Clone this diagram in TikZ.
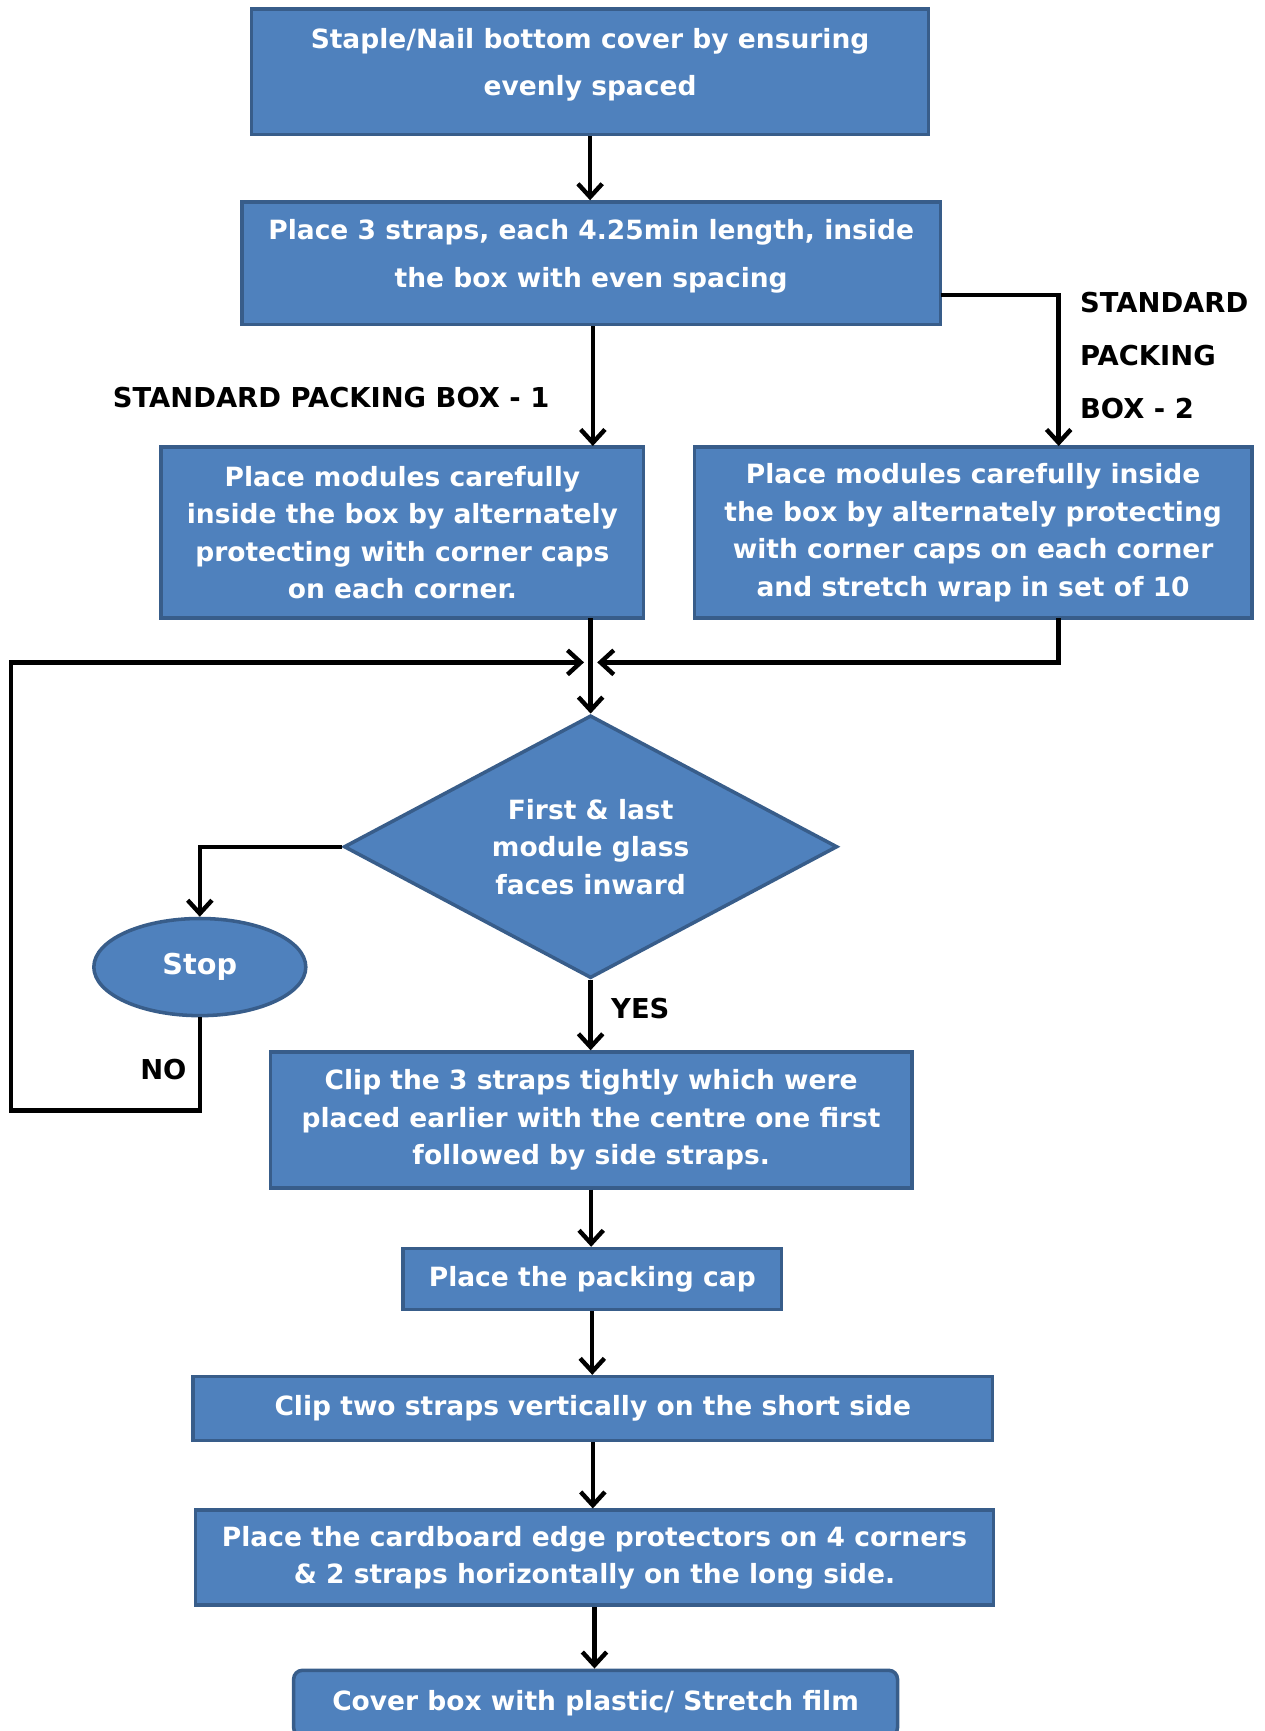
\documentclass[tikz,border=0pt]{standalone}
\usepackage{fontspec}
\setmainfont{DejaVu Sans}
\usepackage{tikz}
\usetikzlibrary{shapes.geometric,arrows.meta}

\definecolor{boxfill}{RGB}{79,129,189}
\definecolor{boxline}{RGB}{56,93,138}

\begin{document}
\begin{tikzpicture}[x=0.5pt,y=0.5pt,yscale=-1,
  blk/.style={draw=boxline,fill=boxfill,line width=1.6pt,text=white,align=center,inner sep=0pt,
    font=\bfseries\fontsize{12}{17}\selectfont},
  wideblk/.style={blk,text depth=9pt,font=\bfseries\fontsize{12}{21.5}\selectfont},
  lbl/.style={inner sep=0pt,font=\bfseries\fontsize{12.4}{24}\selectfont},
  arr/.style={line width=2pt,-{Straight Barb[length=6pt,width=11pt]}},
  ln/.style={line width=2pt}]
\useasboundingbox (0,0) rectangle (1145,1568);

%Shape: Rectangle
\node (staple) at (534.5,65) [wideblk,minimum width=306.5pt,minimum height=57pt]
  {Staple/Nail bottom cover by ensuring\\evenly spaced};
%Shape: Rectangle
\node (straps) at (535.5,238.5) [wideblk,minimum width=316.5pt,minimum height=55.5pt]
  {Place 3 straps, each 4.25min length, inside\\the box with even spacing};
%Shape: Rectangle
\node (boxone) at (364.5,482.5) [blk,minimum width=218.5pt,minimum height=77.5pt]
  {Place modules carefully\\inside the box by alternately\\protecting with corner caps\\on each corner.};
%Shape: Rectangle
\node (boxtwo) at (881.5,482.5) [blk,minimum width=252.5pt,minimum height=77.5pt]
  {Place modules carefully inside\\the box by alternately protecting\\with corner caps on each corner\\and stretch wrap in set of 10};
%Shape: Diamond
\node (check) at (535,767) [blk,diamond,aspect=1.88,minimum width=223.5pt,minimum height=119pt]
  {First \& last\\module glass\\faces inward};
%Shape: Ellipse
\node (stop) at (181,876) [blk,ellipse,minimum width=96pt,minimum height=44pt,font=\bfseries\fontsize{13}{16}\selectfont]
  {Stop};
%Shape: Rectangle
\node (clip) at (535.5,1014.5) [blk,minimum width=290.5pt,minimum height=61.5pt]
  {Clip the 3 straps tightly which were\\placed earlier with the centre one first\\followed by side straps.};
%Shape: Rectangle
\node (cap) at (536.5,1158.5) [blk,minimum width=171.5pt,minimum height=27.5pt]
  {Place the packing cap};
%Shape: Rectangle
\node (short) at (537,1276) [blk,minimum width=362pt,minimum height=29pt]
  {Clip two straps vertically on the short side};
%Shape: Rectangle
\node (edge) at (538.5,1411) [blk,minimum width=361.5pt,minimum height=43pt]
  {Place the cardboard edge protectors on 4 corners\\\& 2 straps horizontally on the long side.};
%Shape: Rounded Rectangle
\node (cover) at (539.5,1543) [blk,rounded corners=4pt,minimum width=273.5pt,minimum height=30pt]
  {Cover box with plastic/ Stretch film};

% Text Node
\node (lblone) at (300,360) [lbl] {STANDARD PACKING BOX - 1};
% Text Node
\node (lbltwo) at (978,322) [lbl,anchor=west,align=left] {STANDARD\\PACKING\\BOX - 2};
% Text Node
\node (yes) at (580,914) [lbl] {YES};
% Text Node
\node (no) at (148,969) [lbl] {NO};

%Points
\coordinate (sright) at (852,267);
\coordinate (twotop) at (959,404);
\coordinate (twobot) at (959,560);
\coordinate (onebot) at (535,560);
\coordinate (onetop) at (537,404);
\coordinate (joinl) at (529,600);
\coordinate (joinr) at (541,600);
\coordinate (loop) at (10,1006);

%Straight Lines
\draw [arr] (staple.south) -- (staple.south |- straps.north);
\draw [arr] (onetop |- straps.south) -- (onetop);
\draw [arr] (sright) -| (twotop);
\draw [arr] (onebot) -- (check.north);
\draw [arr] (twobot) |- (joinr);
\draw [arr] (check.west) -| (stop.north);
\draw [arr] (stop.south) |- (loop) |- (joinl);
\draw [arr] (check.south) -- (check.south |- clip.north);
\draw [arr] (clip.south) -- (clip.south |- cap.north);
\draw [arr] (cap.south) -- (cap.south |- short.north);
\draw [arr] (short.south) -- (short.south |- edge.north);
\draw [arr] (edge.south) -- (edge.south |- cover.north);

\end{tikzpicture}
\end{document}
